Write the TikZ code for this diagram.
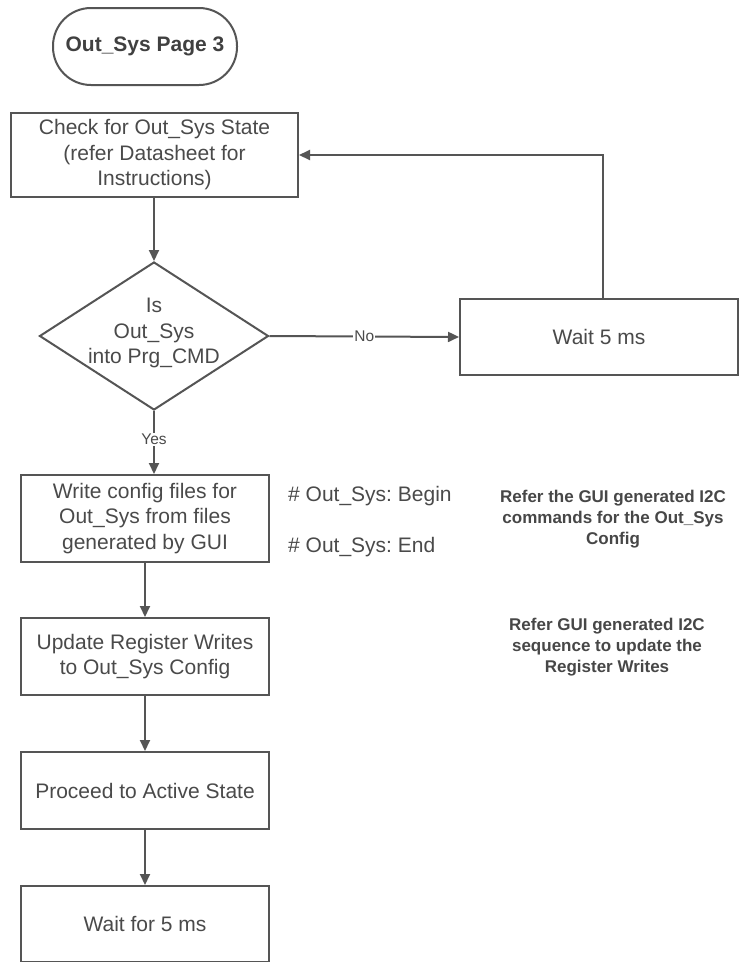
\documentclass[tikz,border=0pt]{standalone}
\usepackage{fontspec}
\setmainfont{Liberation Sans}
\frenchspacing
\usetikzlibrary{shapes.geometric,arrows.meta}
\definecolor{ln}{HTML}{555555}
\definecolor{tx}{HTML}{4A4A4A}
\tikzset{
  proc/.style={draw=ln, line width=2pt, rectangle, inner sep=0pt, align=center, text=tx,
    font=\fontsize{21}{25.5}\selectfont},
  term/.style={draw=ln, line width=2pt, rectangle, rounded corners=38pt, inner sep=0pt,
    text=black!75, font=\fontsize{21}{25}\selectfont\bfseries},
  dec/.style={draw=ln, line width=2pt, diamond, inner sep=0pt},
  txt/.style={align=center, text=tx, inner sep=0pt, font=\fontsize{21}{25.5}\selectfont},
  note/.style={align=center, text=black!72, inner sep=0pt, font=\fontsize{17}{21}\selectfont\bfseries},
  lbl/.style={fill=white, text=tx, inner sep=1pt, font=\fontsize{15.5}{18}\selectfont},
  arr/.style={draw=ln, line width=2pt, -{Triangle[length=11pt,width=10pt]}},
  ln/.style={draw=ln, line width=2pt}
}
\begin{document}
\begin{tikzpicture}[x=1pt,y=-1pt]
\useasboundingbox (0,0) rectangle (740,962);
\fill[white] (0,0) rectangle (740,962);

\node[term, minimum width=184pt, minimum height=77pt] (t) at (145,46.5) {Out\_Sys Page 3};

\node[proc, minimum width=287pt, minimum height=84pt] (b1) at (154.5,155)
  {Check for Out\_Sys State\\(refer Datasheet for\\Instructions)};

\node[dec, minimum width=229pt, minimum height=148pt] (d) at (154,336) {};
\node[txt] (dt) at (154,333) {Is\\Out\_Sys\\into Prg\_CMD};

\node[proc, minimum width=278pt, minimum height=76pt] (w) at (599,337) {Wait 5 ms};

\node[proc, minimum width=248pt, minimum height=87pt] (b2) at (145,518.5)
  {Write config files for\\Out\_Sys from files\\generated by GUI};

\node[txt, anchor=west] (nb) at (288,496) {\# Out\_Sys: Begin};
\node[txt, anchor=west] (ne) at (288,547) {\# Out\_Sys: End};

\node[note] (n1) at (613,519) {Refer the GUI generated I2C\\commands for the Out\_Sys\\Config};

\node[proc, minimum width=248pt, minimum height=77pt] (b3) at (145,656.5)
  {Update Register Writes\\to Out\_Sys Config};

\node[note] (n2) at (607,647.5) {Refer GUI generated I2C\\sequence to update the\\Register Writes};

\node[proc, minimum width=248pt, minimum height=77pt] (b4) at (145,790.5) {Proceed to Active State};

\node[proc, minimum width=248pt, minimum height=76pt] (b5) at (145,924) {Wait for 5 ms};

% connectors
\draw[arr] (b1.south -| d.north) -- (d.north);
\draw[arr] (d.east) -- node[lbl, pos=0.5] (no) {No} (w.west);
\draw[arr] ([xshift=4pt]w.north) |- (b1.east);
\draw[arr] (d.south) -- node[lbl, pos=0.45] (yes) {Yes} (d.south |- b2.north);
\draw[arr] (b2.south) -- (b3.north);
\draw[arr] (b3.south) -- (b4.north);
\draw[arr] (b4.south) -- (b5.north);
\end{tikzpicture}
\end{document}
